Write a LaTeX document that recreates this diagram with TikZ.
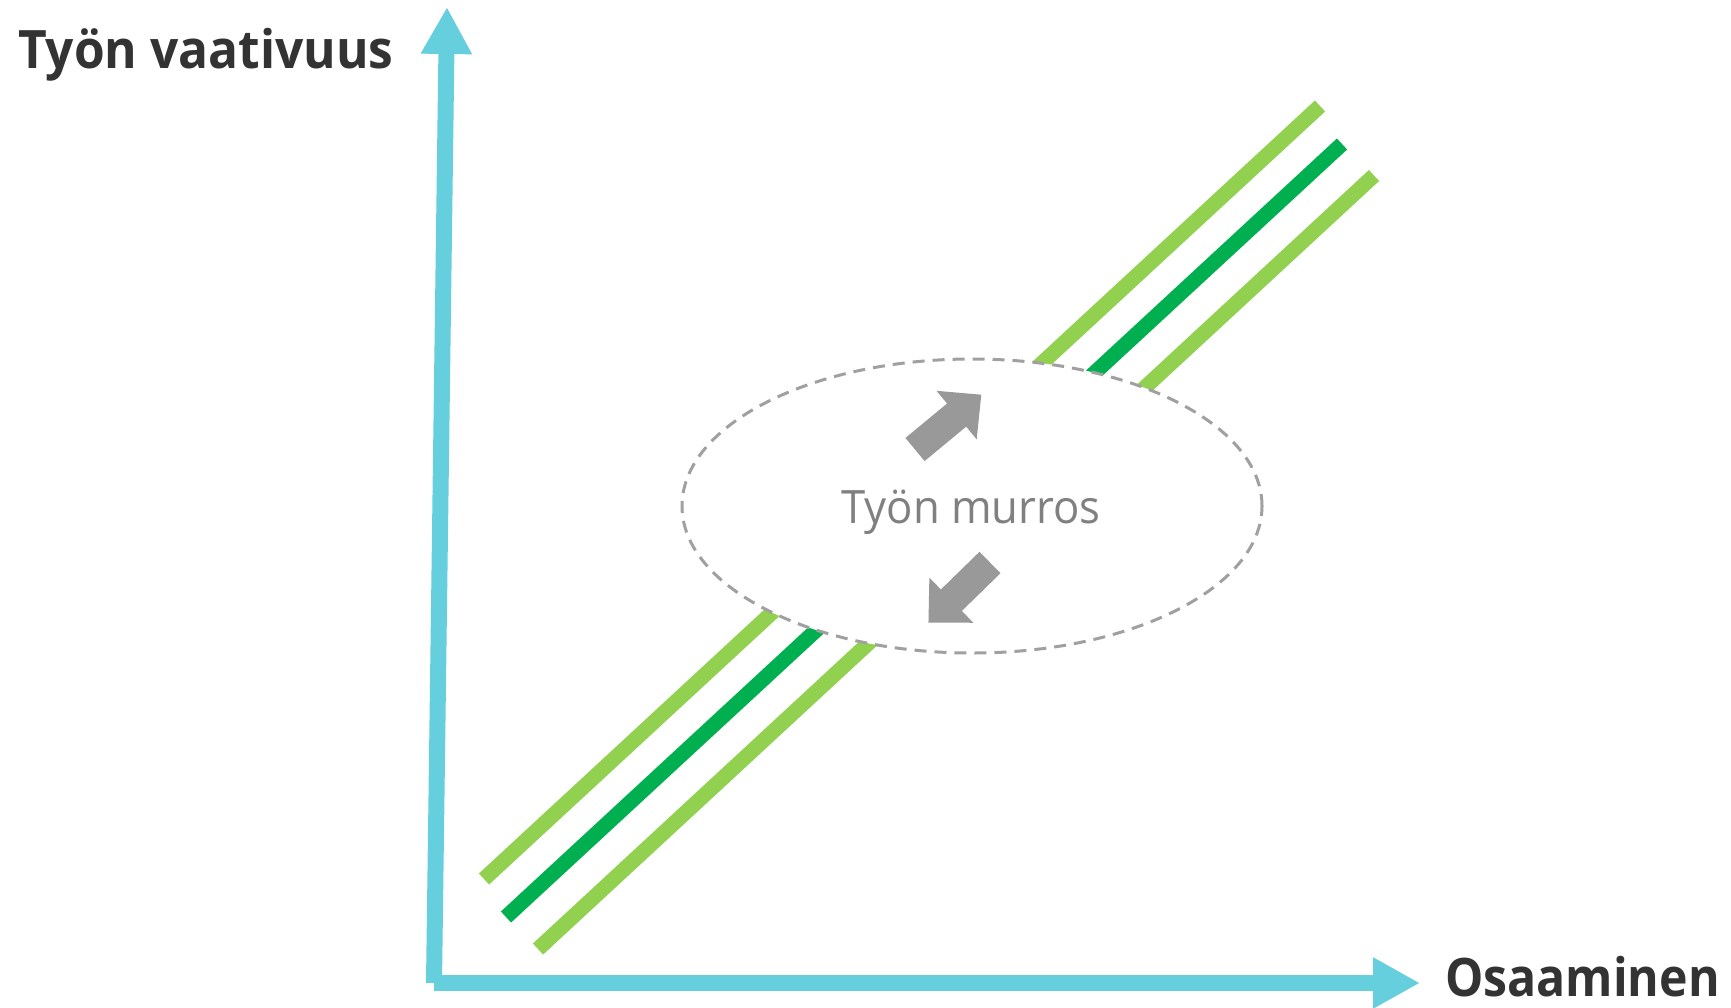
\documentclass[tikz,border=0pt]{standalone}
\usepackage{fontspec}
\usepackage{graphicx}
\setmainfont{Open Sans}
\usetikzlibrary{arrows.meta,shapes.geometric}
\definecolor{axiscol}{RGB}{102,207,222}
\definecolor{lgreen}{RGB}{146,208,80}
\definecolor{dgreen}{RGB}{0,176,80}
\definecolor{arrowgray}{RGB}{153,153,153}
\definecolor{dashgray}{RGB}{160,160,160}
\definecolor{textdark}{RGB}{51,51,51}
\definecolor{textgray}{RGB}{128,128,128}
\tikzset{
  axisline/.style={axiscol, line width=16pt, -{Triangle[width=48pt,length=47pt]}},
  band/.style={line width=15pt},
  blockarrow/.style={fill=arrowgray, draw=none},
  zone/.style={draw=dashgray, fill=white, line width=3pt, dash pattern=on 12pt off 8pt},
  axislabel/.style={inner sep=0pt, text=textdark, font=\fontsize{53}{60}\selectfont\bfseries},
  zonelabel/.style={inner sep=0pt, text=textgray, font=\fontsize{46}{52}\selectfont}
}
\begin{document}
\begin{tikzpicture}[x=1pt,y=-1pt]
\useasboundingbox (0,0) rectangle (1731,1007);
\fill[white] (0,0) rectangle (1731,1007);
% green bands
\coordinate (b1s) at (484,879); \coordinate (b1e) at (1320,106);
\coordinate (b2s) at (506,917); \coordinate (b2e) at (1342,144);
\coordinate (b3s) at (538,949); \coordinate (b3e) at (1374,175.5);
\draw[band, lgreen] (b1s) -- (b1e);
\draw[band, dgreen] (b2s) -- (b2e);
\draw[band, lgreen] (b3s) -- (b3e);
% dashed zone
\node[zone, ellipse, minimum width=580pt, minimum height=294pt, inner sep=0pt] (zone) at (972,506) {};
\node[zonelabel, anchor=base] (zonetext) at (971,523) {\scalebox{0.95}[1]{Työn murros}};
% block arrows
\begin{scope}[shift={(915,449.5)}, rotate=39.6]
  \fill[blockarrow] (0,-15) -- (54,-15) -- (54,-31.5) -- (86,0) -- (54,31.5) -- (54,15) -- (0,15) -- cycle;
\end{scope}
\begin{scope}[shift={(990,562.5)}, rotate=224.3]
  \fill[blockarrow] (0,-15) -- (54,-15) -- (54,-31.5) -- (86,0) -- (54,31.5) -- (54,15) -- (0,15) -- cycle;
\end{scope}
% axes
\coordinate (origin) at (434,983);
\coordinate (ytip) at (447,7);
\coordinate (xtip) at (1420,983);
\draw[axisline] (origin) -- (ytip);
\draw[axisline] (origin) -- (xtip);
% labels
\node[axislabel, anchor=base west] (ylabel) at (18,68) {\scalebox{0.937}[1]{Työn vaativuus}};
\node[axislabel, anchor=base west] (xlabel) at (1445,996) {\scalebox{0.91}[1]{Osaaminen}};
\end{tikzpicture}
\end{document}
